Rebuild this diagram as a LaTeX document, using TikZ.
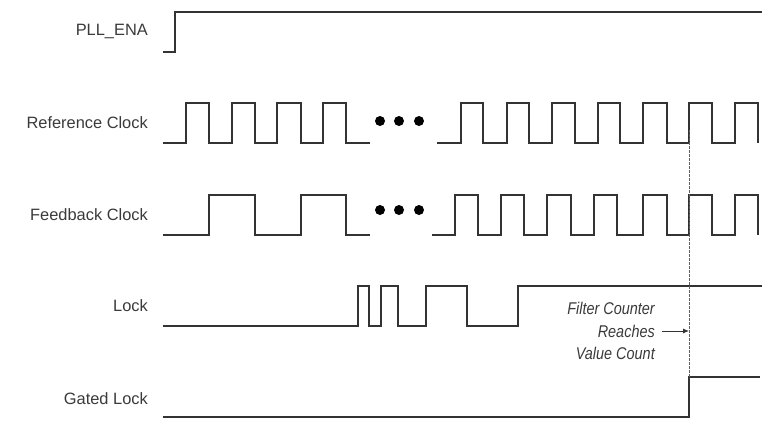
\documentclass[tikz,border=0pt]{standalone}
\usepackage{fontspec}
\setmainfont{Liberation Sans}
\newfontfamily\condit[FakeStretch=0.85]{Liberation Sans}
\usetikzlibrary{arrows.meta}
\definecolor{ink}{HTML}{333333}
\definecolor{txt}{HTML}{3A3A3A}
\definecolor{mark}{HTML}{2A6EB0}
\tikzset{
  lbl/.style={anchor=east, inner sep=0pt, text=txt, font=\fontsize{16.4}{18}\selectfont},
  note/.style={inner sep=0pt, text=txt, align=right, font=\condit\itshape\fontsize{17}{22.5}\selectfont},
  wave/.style={draw=ink, line width=1.3pt, line join=miter, line cap=butt},
  dotmark/.style={circle, fill=black, inner sep=0pt, minimum size=10pt},
  guide/.style={draw=mark, line width=0.9pt, dash pattern=on 2.5pt off 1.5pt},
  pointer/.style={draw=ink, line width=0.9pt, -{Latex[length=6pt,width=5pt]}}
}
\begin{document}
\begin{tikzpicture}[x=1pt, y=-1pt]
\useasboundingbox (0,0) rectangle (765,434);
% labels
\node[lbl] (lpll) at (148,31) {PLL\_ENA};
\node[lbl] (lref) at (148,123) {Reference Clock};
\node[lbl] (lfb) at (148,215) {Feedback Clock};
\node[lbl] (llock) at (148,306) {Lock};
\node[lbl] (lgl) at (148,399) {Gated Lock};
% PLL_ENA
\draw[wave] (163,52) -- (175,52) -- (175,12) -- (762,12);
% Reference clock
\draw[wave] (163,143) -- (186,143) -- (186,103) -- (209,103) -- (209,143)
  -- (232,143) -- (232,103) -- (255,103) -- (255,143)
  -- (277,143) -- (277,103) -- (301,103) -- (301,143)
  -- (323,143) -- (323,103) -- (346,103) -- (346,143) -- (370,143);
\draw[wave] (437,143) -- (461,143) -- (461,103) -- (483,103) -- (483,143)
  -- (507,143) -- (507,103) -- (529,103) -- (529,143)
  -- (552,143) -- (552,103) -- (575,103) -- (575,143)
  -- (598,143) -- (598,103) -- (620,103) -- (620,143)
  -- (643,143) -- (643,103) -- (667,103) -- (667,143)
  -- (689,143) -- (689,103) -- (712,103) -- (712,143)
  -- (735,143) -- (735,103) -- (758,103) -- (758,143);
\node[dotmark] (rd1) at (380,121) {};
\node[dotmark] (rd2) at (399,121) {};
\node[dotmark] (rd3) at (419,121) {};
% Feedback clock
\draw[wave] (163,235) -- (209,235) -- (209,195) -- (255,195) -- (255,235)
  -- (301,235) -- (301,195) -- (346,195) -- (346,235) -- (370,235);
\draw[wave] (432,235) -- (455,235) -- (455,195) -- (478,195) -- (478,235)
  -- (501,235) -- (501,195) -- (524,195) -- (524,235)
  -- (547,235) -- (547,195) -- (571,195) -- (571,235)
  -- (594,235) -- (594,195) -- (617,195) -- (617,235)
  -- (643,235) -- (643,195) -- (667,195) -- (667,235)
  -- (689,235) -- (689,195) -- (712,195) -- (712,235)
  -- (735,235) -- (735,195) -- (758,195) -- (758,235);
\node[dotmark] (fd1) at (380,210) {};
\node[dotmark] (fd2) at (399,210) {};
\node[dotmark] (fd3) at (419,210) {};
% Lock
\draw[wave] (163,326) -- (358,326) -- (358,286) -- (369,286) -- (369,326)
  -- (381,326) -- (381,286) -- (398,286) -- (398,326)
  -- (426,326) -- (426,286) -- (467,286) -- (467,326)
  -- (518,326) -- (518,286) -- (762,286);
% Gated lock
\draw[wave] (163,417) -- (689,417) -- (689,377) -- (760,377);
% guide line
\coordinate (gtop) at (689,130);
\coordinate (gbot) at (689,377);
\coordinate (gmid) at (689,331);
\draw[guide] (gtop) -- (gbot);
% note
\node[note, anchor=east] (fc) at (655,331) {Filter Counter\\Reaches\\Value Count};
\coordinate (ptail) at (662,331);
\draw[pointer] (ptail) -- (gmid);
\end{tikzpicture}
\end{document}
